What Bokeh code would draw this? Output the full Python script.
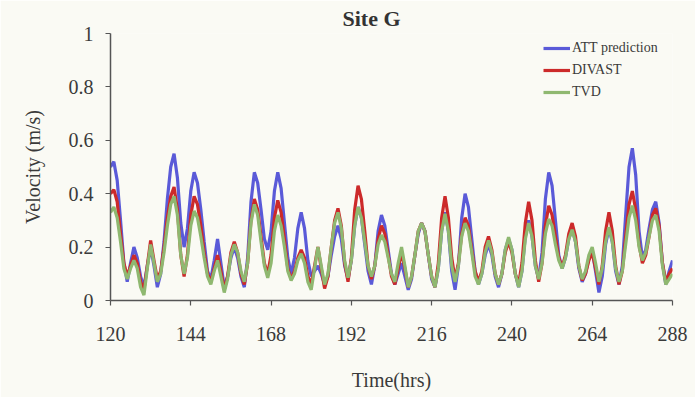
from bokeh.plotting import figure
from bokeh.models import FixedTicker, Legend, LegendItem, Range1d, ColumnDataSource
from bokeh.embed import file_html
from bokeh.resources import INLINE

hours = list(range(120, 289))

att = [
    .50, .52, .45, .30, .14, .07, .14, .20, .16, .09,
    .05, .13, .20, .13, .05, .10, .22, .38, .50, .55,
    .46, .29, .20, .27, .41, .48, .44, .34, .22, .11,
    .08, .15, .23, .14, .05, .09, .16, .20, .16, .09,
    .05, .16, .37, .48, .44, .34, .23, .19, .26, .41,
    .48, .42, .29, .16, .10, .16, .27, .33, .27, .15,
    .09, .11, .13, .10, .06, .09, .17, .24, .28, .23,
    .13, .08, .15, .28, .35, .31, .21, .11, .06, .13,
    .26, .32, .28, .19, .10, .06, .10, .14, .09, .04,
    .08, .17, .25, .29, .26, .17, .08, .05, .12, .26,
    .33, .26, .11, .04, .13, .31, .40, .35, .23, .11,
    .06, .10, .17, .21, .17, .09, .05, .10, .19, .23,
    .19, .10, .05, .11, .24, .30, .24, .13, .08, .18,
    .38, .48, .43, .30, .17, .12, .16, .23, .27, .22,
    .12, .07, .10, .16, .19, .11, .03, .09, .21, .27,
    .22, .11, .06, .13, .32, .50, .57, .47, .26, .16,
    .19, .27, .34, .37, .29, .14, .06, .11, .15,
]

divast = [
    .40, .415, .37, .25, .14, .09, .13, .17, .14, .07,
    .04, .13, .225, .15, .08, .11, .20, .31, .39, .425,
    .34, .17, .09, .17, .32, .39, .36, .28, .18, .10,
    .07, .12, .17, .11, .04, .09, .18, .22, .18, .10,
    .06, .14, .30, .38, .34, .24, .14, .10, .17, .31,
    .375, .33, .23, .12, .08, .11, .16, .19, .16, .09,
    .06, .13, .20, .12, .045, .09, .20, .30, .345, .28,
    .14, .07, .16, .34, .43, .38, .26, .13, .08, .13,
    .23, .28, .25, .17, .09, .06, .12, .18, .12, .05,
    .09, .17, .26, .29, .26, .17, .09, .05, .14, .31,
    .39, .31, .16, .08, .14, .25, .31, .28, .19, .11,
    .07, .11, .20, .24, .19, .10, .06, .10, .18, .22,
    .18, .10, .06, .14, .29, .37, .30, .15, .07, .14,
    .28, .355, .32, .24, .16, .125, .17, .25, .29, .24,
    .13, .075, .10, .15, .18, .12, .06, .13, .26, .33,
    .26, .13, .06, .11, .24, .36, .41, .34, .21, .14,
    .17, .24, .32, .345, .28, .14, .07, .10, .12,
]

tvd = [
    .33, .35, .31, .22, .12, .08, .12, .15, .12, .05,
    .02, .12, .21, .14, .07, .10, .18, .28, .36, .39,
    .32, .17, .10, .16, .28, .335, .31, .24, .16, .09,
    .06, .11, .15, .09, .03, .08, .17, .21, .18, .11,
    .07, .14, .29, .36, .32, .22, .13, .085, .14, .26,
    .32, .28, .20, .11, .075, .10, .15, .175, .14, .07,
    .04, .12, .20, .13, .06, .10, .20, .29, .33, .27,
    .15, .085, .15, .28, .35, .31, .22, .13, .09, .13,
    .21, .245, .22, .16, .10, .07, .14, .20, .13, .05,
    .09, .17, .26, .29, .26, .17, .09, .05, .12, .26,
    .325, .26, .13, .07, .13, .24, .29, .26, .18, .09,
    .06, .10, .18, .225, .18, .10, .06, .10, .19, .237,
    .19, .10, .05, .11, .23, .29, .24, .13, .08, .14,
    .25, .305, .28, .21, .15, .12, .16, .23, .265, .22,
    .13, .08, .11, .17, .20, .14, .07, .12, .22, .275,
    .22, .12, .07, .11, .21, .31, .355, .30, .20, .15,
    .18, .24, .30, .32, .26, .13, .06, .08, .10,
]

series_names = ["ATT prediction", "DIVAST", "TVD"]
xticks = [120, 144, 168, 192, 216, 240, 264, 288]
yticks = [0, 0.2, 0.4, 0.6, 0.8, 1.0]
ytick_labels = ["0", "0.2", "0.4", "0.6", "0.8", "1"]

FONT = "Liberation Serif, serif"
TXT = "#3a3a3a"
AX = "#555555"
BG = "#fafaf4"

src = ColumnDataSource(dict(t=hours, att=att, divast=divast, tvd=tvd))

p = figure(width=695, height=397, output_backend="svg", toolbar_location=None,
           x_range=Range1d(120, 288), y_range=Range1d(0, 1),
           min_border_left=110, min_border_right=23, min_border_top=33,
           min_border_bottom=97)
p.background_fill_color = BG
p.border_fill_color = BG
p.outline_line_color = None
p.xgrid.visible = False
p.ygrid.visible = False

r1 = p.line("t", "att", source=src, line_color="#5a5ad8", line_width=3.2)
r2 = p.line("t", "divast", source=src, line_color="#cc2a2a", line_width=3.2)
r3 = p.line("t", "tvd", source=src, line_color="#8fb870", line_width=3.2)

p.title.text = "Site G"
p.title.text_font = FONT
p.title.text_font_size = "22px"
p.title.text_font_style = "bold"
p.title.text_color = "#333333"
p.title.align = "left"
p.title.offset = 232
p.title.vertical_align = "top"
p.title.standoff = 2

for ax in (p.xaxis[0], p.yaxis[0]):
    ax.axis_line_color = AX
    ax.axis_line_width = 1.5
    ax.major_tick_line_color = AX
    ax.major_tick_line_width = 1.2
    ax.major_tick_in = 0
    ax.major_tick_out = 5
    ax.minor_tick_in = 0
    ax.minor_tick_out = 0
    ax.major_label_text_font = FONT
    ax.major_label_text_font_size = "20px"
    ax.major_label_text_color = TXT
    ax.axis_label_text_font = FONT
    ax.axis_label_text_font_size = "20px"
    ax.axis_label_text_font_style = "normal"
    ax.axis_label_text_color = TXT

p.xaxis.ticker = FixedTicker(ticks=xticks)
p.xaxis.major_label_standoff = 21
p.xaxis.axis_label = "Time(hrs)"
p.xaxis.axis_label_standoff = 25

p.yaxis.ticker = FixedTicker(ticks=yticks)
p.yaxis.major_label_overrides = {v: s for v, s in zip(yticks, ytick_labels)}
p.yaxis.major_label_standoff = 12
p.yaxis.axis_label = "Velocity (m/s)"
p.yaxis.axis_label_standoff = 22

legend = Legend(items=[LegendItem(label=n, renderers=[r]) for n, r in zip(series_names, [r1, r2, r3])],
                location="top_right")
legend.background_fill_alpha = 0
legend.border_line_color = None
legend.label_text_font = FONT
legend.label_text_font_size = "14px"
legend.label_text_color = TXT
legend.glyph_width = 27
legend.glyph_height = 20
legend.label_height = 20
legend.label_width = 95
legend.label_standoff = 2
legend.spacing = 2
legend.padding = 0
legend.margin = 5
p.add_layout(legend)

open("out.html", "w").write(file_html(p, INLINE))
